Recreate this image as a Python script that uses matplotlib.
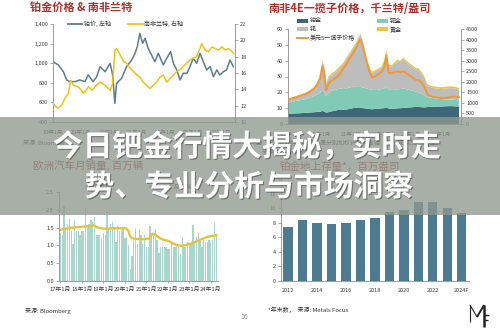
import matplotlib
matplotlib.use("Agg")
import matplotlib.pyplot as plt
from matplotlib.patches import Rectangle
from matplotlib.lines import Line2D
import matplotlib.patheffects as pe
from matplotlib.ticker import FuncFormatter

plt.rcParams['font.family'] = ['Noto Sans CJK SC', 'DejaVu Sans']

# ---------------- data ----------------
# Platinum price (USD/oz) and ZAR per USD
plat_t = [2018.0, 2018.19, 2018.37, 2018.49, 2018.6, 2018.79, 2018.96, 2019.14, 2019.26, 2019.43,
          2019.56, 2019.68, 2019.86, 2020.04, 2020.13, 2020.21, 2020.27, 2020.45, 2020.63, 2020.81,
          2020.93, 2021.01, 2021.1, 2021.2, 2021.29, 2021.4, 2021.52, 2021.64, 2021.76, 2021.94,
          2022.06, 2022.2, 2022.3, 2022.42, 2022.54, 2022.65, 2022.78, 2022.89, 2023.01, 2023.13,
          2023.25, 2023.37, 2023.49, 2023.61, 2023.73, 2023.85, 2023.96, 2024.08, 2024.2, 2024.32,
          2024.44]
plat_usd = [1015, 982, 913, 829, 812, 812, 829, 812, 880, 812,
            862, 965, 913, 999, 880, 591, 795, 846, 965, 1033,
            1101, 1169, 1305, 1203, 1254, 1152, 1084, 1015, 1101, 982,
            1050, 1118, 999, 931, 829, 897, 897, 965, 1050, 999,
            1101, 1015, 931, 965, 862, 931, 880, 913, 931, 1033,
            965]
zar_t = [2018.0, 2018.1, 2018.19, 2018.31, 2018.43, 2018.55, 2018.63, 2018.73, 2018.9, 2018.96,
         2019.1, 2019.26, 2019.4, 2019.55, 2019.68, 2019.86, 2020.04, 2020.13, 2020.21, 2020.27,
         2020.4, 2020.52, 2020.63, 2020.75, 2020.87, 2021.0, 2021.1, 2021.22, 2021.34, 2021.46,
         2021.58, 2021.7, 2021.82, 2021.94, 2022.06, 2022.18, 2022.3, 2022.42, 2022.54, 2022.65,
         2022.78, 2022.89, 2023.01, 2023.13, 2023.25, 2023.31, 2023.43, 2023.55, 2023.67, 2023.79,
         2023.91, 2024.03, 2024.15, 2024.27, 2024.4, 2024.44]
zar = [12.3, 11.9, 11.7, 12.1, 12.9, 13.5, 15.1, 14.5, 14.3, 14.1,
       13.5, 14.3, 13.9, 14.5, 14.9, 14.5, 13.9, 14.7, 18.8, 19.0,
       18.2, 17.4, 17.2, 16.6, 16.2, 15.75, 15.5, 14.9, 14.5, 14.1,
       14.5, 14.9, 15.5, 15.75, 14.9, 15.3, 15.75, 16.2, 16.4, 16.8,
       17.2, 17.6, 17.8, 18.0, 19.0, 19.6, 18.8, 18.6, 19.2, 19.0,
       18.8, 19.2, 18.8, 19.0, 18.6, 18.4]
year_labels_top = ['18年1月', '19年1月', '20年1月', '21年1月', '22年1月', '23年1月', '24年1月']
year_ticks_top = [2018, 2019, 2020, 2021, 2022, 2023, 2024]

# South Africa 4E basket, thousand ZAR/oz, by metal, and the USD basket price
basket_t = [2018.9, 2019.0, 2019.15, 2019.3, 2019.45, 2019.6, 2019.75, 2019.87, 2019.97, 2020.05,
            2020.1, 2020.17, 2020.25, 2020.35, 2020.45, 2020.55, 2020.65, 2020.75, 2020.85, 2020.95,
            2021.05, 2021.15, 2021.25, 2021.32, 2021.4, 2021.5, 2021.6, 2021.7, 2021.8, 2021.9,
            2022.0, 2022.1, 2022.18, 2022.25, 2022.35, 2022.45, 2022.55, 2022.65, 2022.75, 2022.85,
            2022.95, 2023.05, 2023.15, 2023.25, 2023.35, 2023.45, 2023.55, 2023.7, 2023.85, 2024.0,
            2024.15, 2024.3, 2024.45, 2024.6]
basket_pt = [6.5, 6.6, 6.7, 6.8, 7.0, 7.2, 7.4, 7.6, 7.8, 8.2,
             8.0, 7.2, 7.5, 8.0, 8.3, 8.8, 9.2, 9.0, 9.2, 9.5,
             10.0, 10.2, 10.5, 10.3, 10.0, 9.8, 9.5, 9.3, 9.5, 9.6,
             9.8, 10.0, 10.5, 9.8, 9.6, 9.7, 9.9, 10.0, 10.2, 10.3,
             10.5, 10.6, 10.8, 10.8, 10.6, 10.5, 10.7, 10.9, 11.0, 11.0,
             11.2, 11.3, 11.2, 11.0]
basket_pd = [7.0, 7.4, 7.8, 8.2, 8.5, 9.3, 10.1, 10.9, 11.7, 12.8,
             12.0, 10.3, 12.0, 13.0, 13.2, 13.2, 13.3, 13.0, 13.3, 13.5,
             13.5, 13.3, 13.5, 13.2, 13.0, 12.7, 12.5, 12.2, 12.0, 11.9,
             12.2, 12.5, 12.5, 12.2, 11.9, 11.8, 12.1, 12.0, 12.3, 11.7,
             11.0, 10.4, 9.7, 9.2, 8.4, 7.5, 6.3, 5.6, 5.0, 4.8,
             4.3, 4.2, 4.0, 4.0]
basket_rh = [1.8, 1.8, 2.3, 2.8, 3.2, 3.7, 4.7, 6.7, 10.7, 18.1,
             16.1, 7.6, 9.5, 10.0, 10.5, 12.0, 13.5, 16.0, 18.5, 21.1,
             23.6, 26.6, 30.1, 32.6, 28.1, 20.6, 14.1, 10.6, 11.6, 12.6,
             13.1, 16.5, 23.0, 15.0, 14.5, 16.5, 17.5, 17.0, 18.5, 17.0,
             16.0, 15.0, 14.0, 14.0, 13.0, 11.0, 7.0, 6.4, 6.4, 6.3,
             6.9, 7.2, 7.3, 6.7]
basket_au = [0.7, 0.7, 0.7, 0.7, 0.8, 0.8, 0.8, 0.8, 0.8, 0.9,
             0.9, 0.9, 1.0, 1.0, 1.0, 1.0, 1.0, 1.0, 1.0, 0.9,
             0.9, 0.9, 0.9, 0.9, 0.9, 0.9, 0.9, 0.9, 0.9, 0.9,
             0.9, 1.0, 1.0, 1.0, 1.0, 1.0, 1.0, 1.0, 1.0, 1.0,
             1.0, 1.0, 1.0, 1.0, 1.0, 1.0, 1.0, 1.1, 1.1, 1.1,
             1.1, 1.1, 1.1, 1.1]
basket_usd = [1150, 1200, 1260, 1330, 1400, 1500, 1650, 1850, 2150, 2750,
              2500, 1600, 1900, 2050, 2150, 2250, 2400, 2650, 2850, 3100,
              3300, 3550, 3850, 4000, 3650, 3050, 2550, 2200, 2250, 2350,
              2450, 2650, 3250, 2450, 2400, 2450, 2500, 2450, 2500, 2400,
              2300, 2200, 2100, 2080, 1950, 1750, 1400, 1300, 1260, 1230,
              1220, 1280, 1300, 1270]
basket_ticks = [2019, 2020, 2021, 2022, 2023, 2024]
basket_labels = ['19年1月', '20年1月', '21年1月', '22年1月', '23年1月', '24年1月']

# European monthly car sales (million units), Jan 2017 onward, and 12-month average
car_sales = [1.35, 1.30, 2.10, 1.45, 1.60, 1.75, 1.40, 1.05, 1.70, 1.40, 1.40, 1.30,
             1.40, 1.40, 2.05, 1.55, 1.60, 1.70, 1.65, 1.80, 1.30, 1.30, 1.30, 1.20,
             1.35, 1.30, 1.95, 1.45, 1.60, 1.65, 1.45, 1.10, 1.55, 1.40, 1.40, 1.45,
             1.20, 1.25, 1.00, 0.35, 0.70, 1.15, 1.45, 1.05, 1.45, 1.30, 1.05, 1.30,
             0.95, 0.95, 1.55, 1.35, 1.30, 1.45, 1.15, 0.80, 0.95, 0.95, 0.95, 0.95,
             0.90, 0.90, 1.10, 0.95, 0.95, 1.05, 0.95, 0.75, 1.25, 0.95, 0.95, 1.10,
             1.00, 1.05, 1.58, 1.10, 1.25, 1.35, 1.15, 0.95, 1.15, 1.10, 1.10, 1.15,
             1.10, 1.15, 1.62, 1.30]
car_ma = [1.44, 1.45, 1.46, 1.47, 1.48, 1.49, 1.50, 1.50, 1.51, 1.51, 1.52, 1.52,
          1.52, 1.53, 1.53, 1.54, 1.54, 1.55, 1.56, 1.56, 1.52, 1.50, 1.49, 1.48,
          1.47, 1.47, 1.47, 1.47, 1.48, 1.48, 1.48, 1.48, 1.48, 1.48, 1.48, 1.48,
          1.48, 1.47, 1.40, 1.25, 1.20, 1.19, 1.19, 1.18, 1.18, 1.18, 1.17, 1.18,
          1.18, 1.18, 1.22, 1.30, 1.33, 1.30, 1.26, 1.22, 1.19, 1.17, 1.15, 1.14,
          1.13, 1.11, 1.08, 1.05, 1.03, 1.01, 1.00, 0.99, 0.99, 1.00, 1.01, 1.03,
          1.04, 1.05, 1.07, 1.09, 1.11, 1.14, 1.16, 1.18, 1.20, 1.22, 1.24, 1.25,
          1.26, 1.27, 1.28, 1.29]
car_tick_labels = ['17年1月', '18年1月', '19年1月', '20年1月', '21年1月', '22年1月', '23年1月', '24年1月']

# Above-ground platinum stocks (million oz, year end)
stock_years = ['2012', '2013', '2014', '2015', '2016', '2017', '2018',
               '2019', '2020', '2021', '2022', '2023', '2024F']
stock_moz = [7.4, 8.4, 8.0, 7.85, 8.0, 8.4, 8.7, 9.5, 9.7, 10.8, 10.8, 10.0, 9.4]

# ---------------- layout helpers ----------------
W, H = 500, 333
fig = plt.figure(figsize=(W / 100, H / 100), dpi=100)
fig.patch.set_facecolor('white')


def rect(x0, y0, x1, y1):
    return [x0 / W, 1 - y1 / H, (x1 - x0) / W, (y1 - y0) / H]


def fx(x):
    return x / W


def fy(y):
    return 1 - y / H


TITLE_RED = '#b0302c'
TICK_C = '#3a3a3a'
SPINE_C = '#8c8c8c'


def style(ax, left=True, right=False, bottom=True):
    ax.set_facecolor('none')
    ax.spines['top'].set_visible(False)
    ax.spines['left'].set_visible(left)
    ax.spines['right'].set_visible(right)
    ax.spines['bottom'].set_visible(bottom)
    for s in ax.spines.values():
        s.set_color(SPINE_C)
        s.set_linewidth(0.6)
    ax.tick_params(labelsize=4, colors=SPINE_C, labelcolor=TICK_C,
                   length=2.2, width=0.5, pad=1.5)


def legend_line(x0, x1, y, color, label, lw=1.3):
    fig.add_artist(Line2D([fx(x0), fx(x1)], [fy(y), fy(y)], color=color, lw=lw,
                          transform=fig.transFigure))
    fig.text(fx(x1 + 1.5), fy(y), label, fontsize=4.3, color='#333333', va='center')


def legend_patch(x0, x1, y, color, label):
    fig.add_artist(Rectangle((fx(x0), fy(y + 1.8)), (x1 - x0) / W, 3.6 / H,
                             facecolor=color, edgecolor='none', transform=fig.transFigure))
    fig.text(fx(x1 + 1.5), fy(y), label, fontsize=4.3, color='#333333', va='center')


# ---------------- top left: platinum vs rand ----------------
ax1 = fig.add_axes(rect(53, 24, 235, 122))
ax1.plot(plat_t, plat_usd, color='#5b7d8d', lw=1.1)
ax1.set_xlim(2018.0, 2024.5)
ax1.set_ylim(400, 1400)
ax1.set_yticks(range(400, 1401, 200))
ax1.yaxis.set_major_formatter(FuncFormatter(lambda v, p: f"{int(v):,}"))
ax1.set_xticks(year_ticks_top)
ax1.set_xticklabels(year_labels_top)
style(ax1, left=True, right=False, bottom=True)
ax1.tick_params(axis='x', pad=6, length=0)

ax1b = ax1.twinx()
ax1b.plot(zar_t, zar, color='#f0c21c', lw=1.1)
ax1b.set_ylim(10, 22)
ax1b.set_yticks(range(10, 23, 2))
style(ax1b, left=False, right=True, bottom=False)

fig.text(fx(30), fy(7.5), '铂金价格 & 南非兰特', fontsize=8, weight='bold',
         color=TITLE_RED, va='center')
legend_line(68, 82, 24, '#5b7d8d', '铂价, 左轴')
legend_line(128, 143, 24, '#f0c21c', '南非兰特, 右轴')
fig.text(fx(23), fy(143), '来源: Bloomberg', fontsize=4.3, color='#333333', va='center')

# ---------------- top right: 4E basket ----------------
ax2 = fig.add_axes(rect(288, 29, 461, 124))
ax2.stackplot(basket_t, basket_pt, basket_pd, basket_rh, basket_au,
              colors=['#3f6677', '#80cab6', '#bdbdbd', '#f0c43a'], linewidth=0)
ax2.set_xlim(2018.9, 2024.667)
ax2.set_ylim(0, 60)
ax2.set_yticks(range(0, 61, 10))
ax2.set_xticks(basket_ticks)
ax2.set_xticklabels(basket_labels)
style(ax2, left=True, right=False, bottom=True)
ax2.tick_params(axis='x', pad=6, length=0)

ax2b = ax2.twinx()
ax2b.plot(basket_t, basket_usd, color='#f0973a', lw=1.4)
ax2b.set_ylim(0, 4500)
ax2b.set_yticks(range(0, 4501, 500))
style(ax2b, left=False, right=True, bottom=False)

fig.text(fx(268), fy(8), '南非4E一揽子价格，千兰特/盎司', fontsize=8, weight='bold',
         color=TITLE_RED, va='center')
legend_patch(297, 308, 20.7, '#3f6677', '铂金')
legend_patch(377, 388, 20.7, '#80cab6', '钯金')
legend_patch(297, 308, 29.3, '#bdbdbd', '铑')
legend_patch(377, 388, 29.3, '#f0c43a', '黄金')
legend_line(297, 308, 37.7, '#f0973a', '美元5一揽子价格', lw=1.4)
fig.text(fx(255), fy(143), '注：一揽子价格按四种金属分别加权计算，含铂、钯、铑以及2.6%金。',
         fontsize=4.3, color='#333333', va='center')
fig.text(fx(262), fy(152), '来源: Bloomberg', fontsize=4.3, color='#333333', va='center')

# ---------------- bottom left: European car sales ----------------
ax3 = fig.add_axes(rect(59, 192, 218, 281))
months = list(range(len(car_sales)))
ax3.bar(months, car_sales, width=0.72, color='#a9d6ca', linewidth=0)
ax3.plot(list(range(len(car_ma))), car_ma, color='#e2c33c', lw=1.7)
ax3.set_xlim(-0.8, 88)
ax3.set_ylim(0, 2.5)
ax3.set_yticks([0, 0.5, 1.0, 1.5, 2.0, 2.5])
ax3.yaxis.set_major_formatter(FuncFormatter(lambda v, p: f"{v:.1f}"))
ax3.set_xticks(list(range(0, 85, 12)))
ax3.set_xticklabels(car_tick_labels)
style(ax3, left=True, right=False, bottom=True)
ax3.tick_params(axis='x', labelsize=4.2, pad=3, length=1.5)

fig.text(fx(33), fy(165), '欧洲汽车月销量, 百万辆', fontsize=7.6, color=TITLE_RED, va='center')
legend_patch(85, 92, 187, '#a9d6ca', '月销量')
legend_line(150, 160, 187, '#e2c33c', '12个月均线', lw=1.5)
fig.text(fx(25), fy(311), '来源: Bloomberg', fontsize=4.3, color='#333333', va='center')

# ---------------- bottom right: above-ground stocks ----------------
ax4 = fig.add_axes(rect(281, 179, 469, 281))
ax4.bar(range(len(stock_moz)), stock_moz, width=0.65, color='#4f7b90', linewidth=0)
ax4.set_xlim(-0.48, 12.5)
ax4.set_ylim(0, 14)
ax4.set_yticks(range(0, 15, 2))
ax4.set_xticks(range(0, len(stock_years), 2))
ax4.set_xticklabels(stock_years[::2])
style(ax4, left=True, right=False, bottom=True)
ax4.tick_params(axis='x', length=0, pad=5)

fig.text(fx(280), fy(167), '铂金地上存量*，百万盎司', fontsize=7.6, color=TITLE_RED, va='center')
fig.text(fx(268), fy(310), '*年末数，  来源: Metals Focus', fontsize=4.3, color='#333333', va='center')

# page number and logo
fig.text(fx(240), fy(317), '16', fontsize=5, color='#8a8a8a', va='center')
logo = [((470, 305), (470, 322), 0.8), ((470, 305), (477, 317), 0.8),
        ((477, 317), (484, 305), 1.4), ((484, 305), (484, 327), 1.8),
        ((484, 315), (489, 315), 1.0), ((484, 320), (488, 320), 1.0)]
for (a, b, lw) in logo:
    fig.add_artist(Line2D([fx(a[0]), fx(b[0])], [fy(a[1]), fy(b[1])], color='#222222',
                          lw=lw, transform=fig.transFigure, solid_capstyle='butt'))

# ---------------- headline banner ----------------
fig.add_artist(Rectangle((0, fy(215)), 1, (215 - 117) / H, transform=fig.transFigure,
                         facecolor=(0.56, 0.60, 0.56), alpha=0.78, edgecolor='none', zorder=10))
shadow = [pe.SimplePatchShadow(offset=(0.8, -0.8), shadow_rgbFace='black', alpha=0.35), pe.Normal()]
fig.text(fx(247), fy(147), '今日钯金行情大揭秘，实时走', fontsize=21.5, weight='bold',
         color='white', ha='center', va='center', zorder=11, path_effects=shadow)
fig.text(fx(249), fy(187), '势、专业分析与市场洞察', fontsize=21.5, weight='bold',
         color='white', ha='center', va='center', zorder=11, path_effects=shadow)

fig.savefig('out.png', dpi=100, facecolor='white')
